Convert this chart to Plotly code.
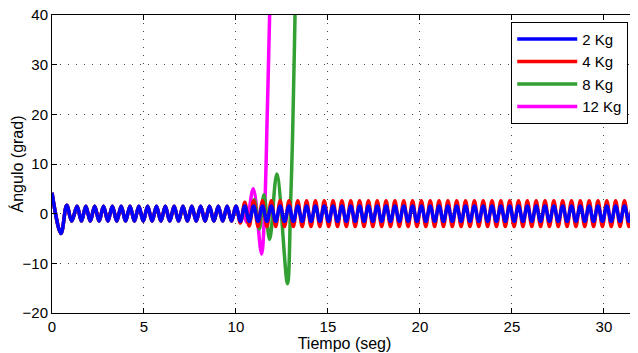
import plotly.graph_objects as go

# ---- data ----
series_names = ["2 Kg", "4 Kg", "8 Kg", "12 Kg"]
series_colors = ["#0000FF", "#FF0000", "#33A033", "#FF00FF"]

# initial transient (common to every series)
start_t = [0.0, 0.49, 0.80, 1.07]
start_y = [4.2, -4.0, 1.7, -1.5]

# times of the successive peaks / troughs of the steady oscillation
wave_t = [
    1.36, 1.60, 1.84, 2.08, 2.32, 2.56, 2.80, 3.04, 3.28, 3.52, 3.76, 4.00,
    4.24, 4.48, 4.72, 4.96, 5.20, 5.44, 5.68, 5.92, 6.16, 6.40, 6.64, 6.88,
    7.12, 7.36, 7.60, 7.84, 8.08, 8.32, 8.56, 8.80, 9.04, 9.28, 9.52, 9.76,
    10.00, 10.24, 10.48, 10.72, 10.96, 11.20, 11.44, 11.68, 11.92, 12.16, 12.40, 12.64,
    12.88, 13.12, 13.36, 13.60, 13.84, 14.08, 14.32, 14.56, 14.80, 15.04, 15.28, 15.52,
    15.76, 16.00, 16.24, 16.48, 16.72, 16.96, 17.20, 17.44, 17.68, 17.92, 18.16, 18.40,
    18.64, 18.88, 19.12, 19.36, 19.60, 19.84, 20.08, 20.32, 20.56, 20.80, 21.04, 21.28,
    21.52, 21.76, 22.00, 22.24, 22.48, 22.72, 22.96, 23.20, 23.44, 23.68, 23.92, 24.16,
    24.40, 24.64, 24.88, 25.12, 25.36, 25.60, 25.84, 26.08, 26.32, 26.56, 26.80, 27.04,
    27.28, 27.52, 27.76, 28.00, 28.24, 28.48, 28.72, 28.96, 29.20, 29.44, 29.68, 29.92,
    30.16, 30.40, 30.64, 30.88, 31.12, 31.36, 31.60, 31.84, 32.08,
]

# 2 Kg: peak / trough values at wave_t
blue_wave_y = [
    1.5, -1.5, 1.5, -1.5, 1.5, -1.5, 1.5, -1.5, 1.5, -1.5, 1.5, -1.5,
    1.5, -1.5, 1.5, -1.5, 1.5, -1.5, 1.5, -1.5, 1.5, -1.5, 1.5, -1.5,
    1.5, -1.5, 1.5, -1.5, 1.5, -1.5, 1.5, -1.5, 1.5, -1.5, 1.5, -1.5,
    1.5, -1.55, 1.55, -1.55, 1.55, -1.55, 1.55, -1.55, 1.55, -1.55, 1.55, -1.55,
    1.55, -1.55, 1.55, -1.55, 1.55, -1.55, 1.55, -1.55, 1.55, -1.55, 1.55, -1.55,
    1.55, -1.55, 1.55, -1.55, 1.55, -1.55, 1.55, -1.55, 1.55, -1.55, 1.55, -1.55,
    1.55, -1.55, 1.55, -1.55, 1.55, -1.55, 1.55, -1.55, 1.55, -1.55, 1.55, -1.55,
    1.55, -1.55, 1.55, -1.55, 1.55, -1.55, 1.55, -1.55, 1.55, -1.55, 1.55, -1.55,
    1.55, -1.55, 1.55, -1.55, 1.55, -1.55, 1.55, -1.55, 1.55, -1.55, 1.55, -1.55,
    1.55, -1.55, 1.55, -1.55, 1.55, -1.55, 1.55, -1.55, 1.55, -1.55, 1.55, -1.55,
    1.55, -1.55, 1.55, -1.55, 1.55, -1.55, 1.55, -1.55, 1.55,
]

# 4 Kg: values from t = 10.24 on (before that it matches 2 Kg)
red_wave_y = [
    -1.9, 2.3, -2.5, 2.6, -2.6, 2.6, -2.6, 2.6, -2.6, 2.6, -2.6,
    2.6, -2.6, 2.6, -2.6, 2.6, -2.6, 2.6, -2.6, 2.6, -2.6, 2.6, -2.6,
    2.6, -2.6, 2.6, -2.6, 2.6, -2.6, 2.6, -2.6, 2.6, -2.6, 2.6, -2.6,
    2.6, -2.6, 2.6, -2.6, 2.6, -2.6, 2.6, -2.6, 2.6, -2.6, 2.6, -2.6,
    2.6, -2.6, 2.6, -2.6, 2.6, -2.6, 2.6, -2.6, 2.6, -2.6, 2.6, -2.6,
    2.6, -2.6, 2.6, -2.6, 2.6, -2.6, 2.6, -2.6, 2.6, -2.6, 2.6, -2.6,
    2.6, -2.6, 2.6, -2.6, 2.6, -2.6, 2.6, -2.6, 2.6, -2.6, 2.6, -2.6,
    2.6, -2.6, 2.6, -2.6, 2.6, -2.6, 2.6, -2.6, 2.6,
]

# 8 Kg: diverging part after t = 10
green_tail_t = [10.24, 10.48, 10.72, 11.00, 11.27, 11.52, 11.83, 12.22, 12.80, 12.97, 13.08, 13.17, 13.26]
green_tail_y = [-1.5, 1.6, -1.8, 2.8, -3.1, 3.8, -5.2, 8.0, -14.1, 2.0, 16.0, 32.0, 50.0]

# 12 Kg: diverging part after t = 10
magenta_tail_t = [10.24, 10.40, 10.58, 10.94, 11.39, 11.55, 11.70, 11.83, 11.95]
magenta_tail_y = [-1.4, 0.3, -1.7, 5.0, -8.1, 0.0, 20.0, 40.0, 58.0]

x_ticks = [0, 5, 10, 15, 20, 25, 30]
y_ticks = [-20, -10, 0, 10, 20, 30, 40]

# ---- build series ----
n10 = wave_t.index(10.00) + 1  # common part up to t = 10
blue_t = start_t + wave_t
blue_y = start_y + blue_wave_y
red_t = start_t + wave_t
red_y = start_y + blue_wave_y[:n10] + red_wave_y
green_t = start_t + wave_t[:n10] + green_tail_t
green_y = start_y + blue_wave_y[:n10] + green_tail_y
mag_t = start_t + wave_t[:n10] + magenta_tail_t
mag_y = start_y + blue_wave_y[:n10] + magenta_tail_y

data = [(blue_t, blue_y), (red_t, red_y), (green_t, green_y), (mag_t, mag_y)]

fig = go.Figure()
# draw 12 Kg first so 2 Kg ends on top
for i in [3, 2, 1, 0]:
    tx, ty = data[i]
    fig.add_trace(go.Scatter(
        x=tx, y=ty, mode="lines", name=series_names[i],
        line=dict(color=series_colors[i], width=3.5, shape="spline", smoothing=1),
        legendrank=i + 1,
    ))

font_family = "Liberation Sans, Arial, Helvetica, sans-serif"
axis_common = dict(
    showline=True, linecolor="black", linewidth=1, mirror="ticks",
    ticks="inside", ticklen=5, tickcolor="black",
    showgrid=True, gridcolor="#444444", gridwidth=1, griddash="1px,7px",
    zeroline=False, automargin=False, ticklabeloverflow="allow",
    tickfont=dict(size=15, color="black", family=font_family),
)

# the page body adds an 8 px offset, so the figure is 8 px smaller
fig.update_layout(
    width=630, height=345,
    margin=dict(l=44, r=1, t=7, b=40),
    paper_bgcolor="white", plot_bgcolor="white",
    font=dict(family=font_family, size=15, color="black"),
    xaxis=dict(range=[0, 31.8], tickvals=x_ticks,
               title=dict(text="Tiempo (seg)", standoff=0, font=dict(size=16)),
               **axis_common),
    yaxis=dict(range=[-20, 40], tickvals=y_ticks,
               title=dict(text="Ángulo (grad)", standoff=3, font=dict(size=16)),
               **axis_common),
    legend=dict(x=0.985, y=0.977, xanchor="right", yanchor="top",
                bgcolor="white", bordercolor="black", borderwidth=1,
                font=dict(size=15), itemwidth=60, tracegroupgap=0),
    showlegend=True,
)

fig.write_html("out.html")
